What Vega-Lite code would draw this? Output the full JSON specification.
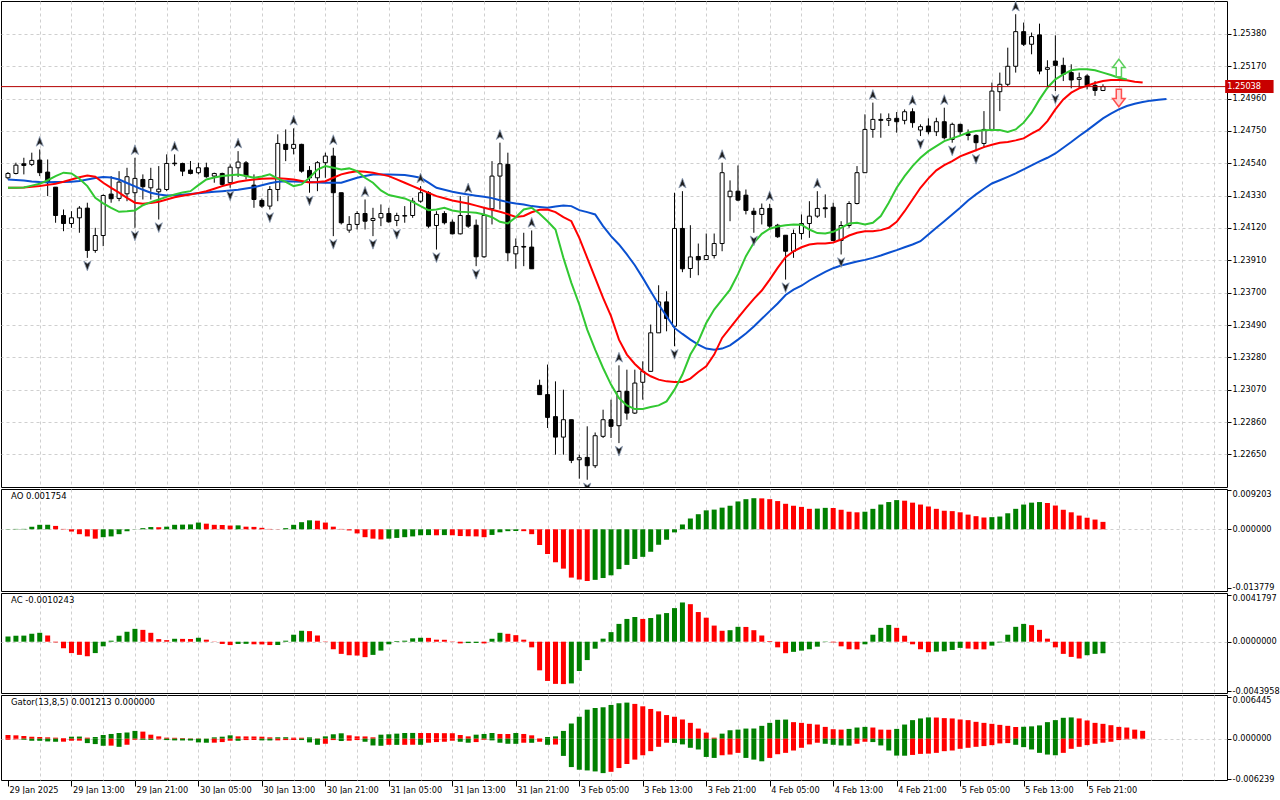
{
"$schema": "https://vega.github.io/schema/vega-lite/v6.json",
"padding": 0,
"background": "white",
"spacing": 2,
"bounds": "flush",
"config": {
  "view": {"stroke": "#000000", "strokeWidth": 1, "fill": "white"},
  "font": "DejaVu Sans",
  "axis": {"labelFont": "DejaVu Sans", "labelFontSize": 8.2, "labelColor": "#000000", "tickColor": "#000000", "gridColor": "#cfcfcf", "gridDash": [3, 3], "gridWidth": 1, "domain": false, "labelOverlap": false, "labelBound": false, "labelFlush": false, "title": null}
},
"datasets": {
"candles": [
{"i":0,"o":1.24446,"h":1.24483,"l":1.24435,"c":1.24474},
{"i":1,"o":1.24474,"h":1.24544,"l":1.24468,"c":1.24528},
{"i":2,"o":1.24537,"h":1.24576,"l":1.24468,"c":1.24526},
{"i":3,"o":1.24533,"h":1.24609,"l":1.24522,"c":1.24559},
{"i":4,"o":1.24561,"h":1.24630,"l":1.24457,"c":1.24479},
{"i":5,"o":1.24483,"h":1.24565,"l":1.24327,"c":1.24414},
{"i":6,"o":1.24385,"h":1.24385,"l":1.24154,"c":1.24201},
{"i":7,"o":1.24201,"h":1.24240,"l":1.24099,"c":1.24149},
{"i":8,"o":1.24149,"h":1.24229,"l":1.24121,"c":1.24186},
{"i":9,"o":1.24186,"h":1.24262,"l":1.24089,"c":1.24249},
{"i":10,"o":1.24249,"h":1.24284,"l":1.23926,"c":1.23974},
{"i":11,"o":1.23974,"h":1.24121,"l":1.23959,"c":1.24071},
{"i":12,"o":1.24071,"h":1.24338,"l":1.24002,"c":1.24331},
{"i":13,"o":1.24340,"h":1.24457,"l":1.24284,"c":1.24310},
{"i":14,"o":1.24312,"h":1.24489,"l":1.24294,"c":1.24418},
{"i":15,"o":1.24342,"h":1.24511,"l":1.24294,"c":1.24453},
{"i":16,"o":1.24349,"h":1.24576,"l":1.24121,"c":1.24442},
{"i":17,"o":1.24435,"h":1.24468,"l":1.24305,"c":1.24388},
{"i":18,"o":1.24381,"h":1.24511,"l":1.24305,"c":1.24435},
{"i":19,"o":1.24355,"h":1.24522,"l":1.24175,"c":1.24372},
{"i":20,"o":1.24370,"h":1.24598,"l":1.24359,"c":1.24539},
{"i":21,"o":1.24541,"h":1.24598,"l":1.24522,"c":1.24537},
{"i":22,"o":1.24539,"h":1.24544,"l":1.24457,"c":1.24489},
{"i":23,"o":1.24496,"h":1.24555,"l":1.24468,"c":1.24474},
{"i":24,"o":1.24479,"h":1.24544,"l":1.24468,"c":1.24511},
{"i":25,"o":1.24511,"h":1.24544,"l":1.24446,"c":1.24453},
{"i":26,"o":1.24457,"h":1.24479,"l":1.24414,"c":1.24474},
{"i":27,"o":1.24474,"h":1.24479,"l":1.24392,"c":1.24403},
{"i":28,"o":1.24414,"h":1.24533,"l":1.24381,"c":1.24515},
{"i":29,"o":1.24511,"h":1.24619,"l":1.24451,"c":1.24548},
{"i":30,"o":1.24543,"h":1.24555,"l":1.24435,"c":1.24457},
{"i":31,"o":1.24398,"h":1.24468,"l":1.24251,"c":1.24305},
{"i":32,"o":1.24299,"h":1.24312,"l":1.24251,"c":1.24262},
{"i":33,"o":1.24262,"h":1.24392,"l":1.24240,"c":1.24370},
{"i":34,"o":1.24370,"h":1.24728,"l":1.24294,"c":1.24669},
{"i":35,"o":1.24663,"h":1.24760,"l":1.24554,"c":1.24630},
{"i":36,"o":1.24637,"h":1.24767,"l":1.24598,"c":1.24663},
{"i":37,"o":1.24663,"h":1.24667,"l":1.24479,"c":1.24489},
{"i":38,"o":1.24494,"h":1.24522,"l":1.24349,"c":1.24446},
{"i":39,"o":1.24446,"h":1.24554,"l":1.24359,"c":1.24544},
{"i":40,"o":1.24544,"h":1.24609,"l":1.24446,"c":1.24587},
{"i":41,"o":1.24587,"h":1.24641,"l":1.24067,"c":1.24349},
{"i":42,"o":1.24349,"h":1.24349,"l":1.24143,"c":1.24154},
{"i":43,"o":1.24106,"h":1.24197,"l":1.24089,"c":1.24143},
{"i":44,"o":1.24143,"h":1.24229,"l":1.24110,"c":1.24214},
{"i":45,"o":1.24214,"h":1.24305,"l":1.24110,"c":1.24164},
{"i":46,"o":1.24169,"h":1.24251,"l":1.24067,"c":1.24182},
{"i":47,"o":1.24186,"h":1.24273,"l":1.24132,"c":1.24214},
{"i":48,"o":1.24214,"h":1.24251,"l":1.24154,"c":1.24160},
{"i":49,"o":1.24169,"h":1.24219,"l":1.24132,"c":1.24201},
{"i":50,"o":1.24197,"h":1.24262,"l":1.24154,"c":1.24201},
{"i":51,"o":1.24201,"h":1.24316,"l":1.24186,"c":1.24294},
{"i":52,"o":1.24294,"h":1.24392,"l":1.24284,"c":1.24349},
{"i":53,"o":1.24349,"h":1.24359,"l":1.24121,"c":1.24132},
{"i":54,"o":1.24136,"h":1.24229,"l":1.23980,"c":1.24208},
{"i":55,"o":1.24214,"h":1.24229,"l":1.24143,"c":1.24154},
{"i":56,"o":1.24158,"h":1.24175,"l":1.24078,"c":1.24082},
{"i":57,"o":1.24082,"h":1.24327,"l":1.24078,"c":1.24201},
{"i":58,"o":1.24201,"h":1.24327,"l":1.24121,"c":1.24132},
{"i":59,"o":1.24138,"h":1.24175,"l":1.23872,"c":1.23933},
{"i":60,"o":1.23933,"h":1.24251,"l":1.23926,"c":1.24201},
{"i":61,"o":1.24245,"h":1.24554,"l":1.24143,"c":1.24457},
{"i":62,"o":1.24457,"h":1.24674,"l":1.24240,"c":1.24537},
{"i":63,"o":1.24533,"h":1.24609,"l":1.23904,"c":1.23959},
{"i":64,"o":1.23952,"h":1.24052,"l":1.23855,"c":1.24000},
{"i":65,"o":1.24000,"h":1.24089,"l":1.23872,"c":1.23996},
{"i":66,"o":1.23996,"h":1.24104,"l":1.23855,"c":1.23855},
{"i":67,"o":1.23098,"h":1.23135,"l":1.23038,"c":1.23038},
{"i":68,"o":1.23038,"h":1.23233,"l":1.22821,"c":1.22890},
{"i":69,"o":1.22895,"h":1.23124,"l":1.22648,"c":1.22762},
{"i":70,"o":1.22762,"h":1.23070,"l":1.22648,"c":1.22875},
{"i":71,"o":1.22875,"h":1.22875,"l":1.22593,"c":1.22611},
{"i":72,"o":1.22615,"h":1.22648,"l":1.22492,"c":1.22628},
{"i":73,"o":1.22630,"h":1.22832,"l":1.22485,"c":1.22576},
{"i":74,"o":1.22576,"h":1.22792,"l":1.22561,"c":1.22771},
{"i":75,"o":1.22767,"h":1.22940,"l":1.22756,"c":1.22875},
{"i":76,"o":1.22875,"h":1.23005,"l":1.22756,"c":1.22832},
{"i":77,"o":1.22836,"h":1.23228,"l":1.22723,"c":1.23059},
{"i":78,"o":1.23059,"h":1.23200,"l":1.22875,"c":1.22918},
{"i":79,"o":1.22918,"h":1.23200,"l":1.22912,"c":1.23113},
{"i":80,"o":1.23118,"h":1.23254,"l":1.23005,"c":1.23189},
{"i":81,"o":1.23189,"h":1.23493,"l":1.23189,"c":1.23439},
{"i":82,"o":1.23439,"h":1.23748,"l":1.23439,"c":1.23640},
{"i":83,"o":1.23640,"h":1.23709,"l":1.23449,"c":1.23532},
{"i":84,"o":1.23482,"h":1.24349,"l":1.23352,"c":1.24117},
{"i":85,"o":1.24117,"h":1.24359,"l":1.23833,"c":1.23855},
{"i":86,"o":1.23857,"h":1.24138,"l":1.23796,"c":1.23932},
{"i":87,"o":1.23935,"h":1.24019,"l":1.23813,"c":1.23913},
{"i":88,"o":1.23915,"h":1.24084,"l":1.23915,"c":1.23941},
{"i":89,"o":1.23941,"h":1.24084,"l":1.23922,"c":1.24019},
{"i":90,"o":1.24019,"h":1.24544,"l":1.23969,"c":1.24479},
{"i":91,"o":1.24323,"h":1.24429,"l":1.24164,"c":1.24359},
{"i":92,"o":1.24359,"h":1.24526,"l":1.24294,"c":1.24301},
{"i":93,"o":1.24333,"h":1.24370,"l":1.24208,"c":1.24234},
{"i":94,"o":1.24229,"h":1.24251,"l":1.24089,"c":1.24208},
{"i":95,"o":1.24208,"h":1.24279,"l":1.24143,"c":1.24247},
{"i":96,"o":1.24247,"h":1.24277,"l":1.24110,"c":1.24132},
{"i":97,"o":1.24138,"h":1.24147,"l":1.24056,"c":1.24063},
{"i":98,"o":1.24073,"h":1.24073,"l":1.23785,"c":1.23969},
{"i":99,"o":1.23969,"h":1.24110,"l":1.23926,"c":1.24084},
{"i":100,"o":1.24084,"h":1.24208,"l":1.24045,"c":1.24149},
{"i":101,"o":1.24149,"h":1.24294,"l":1.24056,"c":1.24197},
{"i":102,"o":1.24197,"h":1.24359,"l":1.24186,"c":1.24247},
{"i":103,"o":1.24251,"h":1.24338,"l":1.24186,"c":1.24245},
{"i":104,"o":1.24255,"h":1.24284,"l":1.24034,"c":1.24039},
{"i":105,"o":1.24039,"h":1.24164,"l":1.23948,"c":1.24136},
{"i":106,"o":1.24136,"h":1.24294,"l":1.24121,"c":1.24279},
{"i":107,"o":1.24279,"h":1.24522,"l":1.24273,"c":1.24479},
{"i":108,"o":1.24479,"h":1.24858,"l":1.24479,"c":1.24760},
{"i":109,"o":1.24760,"h":1.24934,"l":1.24706,"c":1.24825},
{"i":110,"o":1.24825,"h":1.24864,"l":1.24706,"c":1.24819},
{"i":111,"o":1.24819,"h":1.24864,"l":1.24782,"c":1.24830},
{"i":112,"o":1.24832,"h":1.24873,"l":1.24739,"c":1.24810},
{"i":113,"o":1.24819,"h":1.24890,"l":1.24793,"c":1.24875},
{"i":114,"o":1.24875,"h":1.24897,"l":1.24771,"c":1.24804},
{"i":115,"o":1.24756,"h":1.24793,"l":1.24717,"c":1.24778},
{"i":116,"o":1.24782,"h":1.24832,"l":1.24728,"c":1.24745},
{"i":117,"o":1.24745,"h":1.24836,"l":1.24717,"c":1.24810},
{"i":118,"o":1.24810,"h":1.24901,"l":1.24695,"c":1.24706},
{"i":119,"o":1.24695,"h":1.24804,"l":1.24674,"c":1.24793},
{"i":120,"o":1.24793,"h":1.24797,"l":1.24717,"c":1.24745},
{"i":121,"o":1.24732,"h":1.24760,"l":1.24689,"c":1.24721},
{"i":122,"o":1.24721,"h":1.24728,"l":1.24619,"c":1.24674},
{"i":123,"o":1.24669,"h":1.24879,"l":1.24641,"c":1.24760},
{"i":124,"o":1.24760,"h":1.25064,"l":1.24760,"c":1.25009},
{"i":125,"o":1.25005,"h":1.25129,"l":1.24879,"c":1.25053},
{"i":126,"o":1.25053,"h":1.25291,"l":1.25042,"c":1.25170},
{"i":127,"o":1.25170,"h":1.25508,"l":1.25129,"c":1.25395},
{"i":128,"o":1.25395,"h":1.25454,"l":1.25302,"c":1.25313},
{"i":129,"o":1.25313,"h":1.25389,"l":1.25248,"c":1.25363},
{"i":130,"o":1.25374,"h":1.25447,"l":1.25118,"c":1.25139},
{"i":131,"o":1.25150,"h":1.25209,"l":1.25042,"c":1.25161},
{"i":132,"o":1.25204,"h":1.25371,"l":1.25009,"c":1.25176},
{"i":133,"o":1.25176,"h":1.25226,"l":1.25074,"c":1.25118},
{"i":134,"o":1.25129,"h":1.25183,"l":1.25027,"c":1.25081},
{"i":135,"o":1.25085,"h":1.25129,"l":1.25027,"c":1.25096},
{"i":136,"o":1.25107,"h":1.25118,"l":1.25020,"c":1.25046},
{"i":137,"o":1.25046,"h":1.25074,"l":1.24978,"c":1.25013},
{"i":138,"o":1.25013,"h":1.25053,"l":1.25009,"c":1.25038}
],
"alligator": [
{"i":0,"jaw":1.24435,"teeth":1.24381,"lips":1.24381},
{"i":1,"jaw":1.24432,"teeth":1.24382,"lips":1.24382},
{"i":2,"jaw":1.24428,"teeth":1.24383,"lips":1.24383},
{"i":3,"jaw":1.24422,"teeth":1.24388,"lips":1.24395},
{"i":4,"jaw":1.24418,"teeth":1.24392,"lips":1.24407},
{"i":5,"jaw":1.24417,"teeth":1.24400,"lips":1.24430},
{"i":6,"jaw":1.24418,"teeth":1.24407,"lips":1.24457},
{"i":7,"jaw":1.24419,"teeth":1.24420,"lips":1.24479},
{"i":8,"jaw":1.24420,"teeth":1.24435,"lips":1.24474},
{"i":9,"jaw":1.24425,"teeth":1.24450,"lips":1.24440},
{"i":10,"jaw":1.24435,"teeth":1.24461,"lips":1.24392},
{"i":11,"jaw":1.24445,"teeth":1.24453,"lips":1.24316},
{"i":12,"jaw":1.24451,"teeth":1.24414,"lips":1.24280},
{"i":13,"jaw":1.24448,"teeth":1.24380,"lips":1.24251},
{"i":14,"jaw":1.24435,"teeth":1.24349,"lips":1.24225},
{"i":15,"jaw":1.24412,"teeth":1.24315,"lips":1.24228},
{"i":16,"jaw":1.24390,"teeth":1.24284,"lips":1.24234},
{"i":17,"jaw":1.24368,"teeth":1.24277,"lips":1.24268},
{"i":18,"jaw":1.24349,"teeth":1.24283,"lips":1.24288},
{"i":19,"jaw":1.24338,"teeth":1.24290,"lips":1.24305},
{"i":20,"jaw":1.24331,"teeth":1.24305,"lips":1.24322},
{"i":21,"jaw":1.24333,"teeth":1.24320,"lips":1.24338},
{"i":22,"jaw":1.24336,"teeth":1.24330,"lips":1.24350},
{"i":23,"jaw":1.24341,"teeth":1.24338,"lips":1.24359},
{"i":24,"jaw":1.24346,"teeth":1.24348,"lips":1.24398},
{"i":25,"jaw":1.24350,"teeth":1.24359,"lips":1.24435},
{"i":26,"jaw":1.24355,"teeth":1.24375,"lips":1.24448},
{"i":27,"jaw":1.24359,"teeth":1.24392,"lips":1.24457},
{"i":28,"jaw":1.24364,"teeth":1.24406,"lips":1.24463},
{"i":29,"jaw":1.24368,"teeth":1.24420,"lips":1.24468},
{"i":30,"jaw":1.24376,"teeth":1.24428,"lips":1.24458},
{"i":31,"jaw":1.24385,"teeth":1.24435,"lips":1.24446},
{"i":32,"jaw":1.24398,"teeth":1.24439,"lips":1.24455},
{"i":33,"jaw":1.24411,"teeth":1.24442,"lips":1.24468},
{"i":34,"jaw":1.24420,"teeth":1.24443,"lips":1.24440},
{"i":35,"jaw":1.24424,"teeth":1.24440,"lips":1.24420},
{"i":36,"jaw":1.24422,"teeth":1.24435,"lips":1.24392},
{"i":37,"jaw":1.24420,"teeth":1.24425,"lips":1.24403},
{"i":38,"jaw":1.24418,"teeth":1.24416,"lips":1.24446},
{"i":39,"jaw":1.24416,"teeth":1.24418,"lips":1.24500},
{"i":40,"jaw":1.24414,"teeth":1.24424,"lips":1.24522},
{"i":41,"jaw":1.24414,"teeth":1.24446,"lips":1.24511},
{"i":42,"jaw":1.24414,"teeth":1.24468,"lips":1.24500},
{"i":43,"jaw":1.24430,"teeth":1.24480,"lips":1.24507},
{"i":44,"jaw":1.24446,"teeth":1.24489,"lips":1.24489},
{"i":45,"jaw":1.24458,"teeth":1.24485,"lips":1.24446},
{"i":46,"jaw":1.24468,"teeth":1.24479,"lips":1.24414},
{"i":47,"jaw":1.24468,"teeth":1.24468,"lips":1.24364},
{"i":48,"jaw":1.24468,"teeth":1.24457,"lips":1.24334},
{"i":49,"jaw":1.24466,"teeth":1.24436,"lips":1.24323},
{"i":50,"jaw":1.24464,"teeth":1.24414,"lips":1.24312},
{"i":51,"jaw":1.24456,"teeth":1.24392,"lips":1.24290},
{"i":52,"jaw":1.24446,"teeth":1.24370,"lips":1.24262},
{"i":53,"jaw":1.24415,"teeth":1.24348,"lips":1.24236},
{"i":54,"jaw":1.24381,"teeth":1.24327,"lips":1.24240},
{"i":55,"jaw":1.24368,"teeth":1.24313,"lips":1.24251},
{"i":56,"jaw":1.24355,"teeth":1.24299,"lips":1.24234},
{"i":57,"jaw":1.24346,"teeth":1.24289,"lips":1.24225},
{"i":58,"jaw":1.24338,"teeth":1.24279,"lips":1.24223},
{"i":59,"jaw":1.24330,"teeth":1.24265,"lips":1.24219},
{"i":60,"jaw":1.24323,"teeth":1.24251,"lips":1.24208},
{"i":61,"jaw":1.24314,"teeth":1.24238,"lips":1.24190},
{"i":62,"jaw":1.24300,"teeth":1.24225,"lips":1.24160},
{"i":63,"jaw":1.24288,"teeth":1.24210,"lips":1.24150},
{"i":64,"jaw":1.24279,"teeth":1.24192,"lips":1.24190},
{"i":65,"jaw":1.24273,"teeth":1.24198,"lips":1.24240},
{"i":66,"jaw":1.24262,"teeth":1.24222,"lips":1.24251},
{"i":67,"jaw":1.24256,"teeth":1.24238,"lips":1.24212},
{"i":68,"jaw":1.24251,"teeth":1.24240,"lips":1.24164},
{"i":69,"jaw":1.24260,"teeth":1.24223,"lips":1.24110},
{"i":70,"jaw":1.24266,"teeth":1.24190,"lips":1.23926},
{"i":71,"jaw":1.24262,"teeth":1.24164,"lips":1.23764},
{"i":72,"jaw":1.24236,"teeth":1.24056,"lips":1.23623},
{"i":73,"jaw":1.24223,"teeth":1.23926,"lips":1.23460},
{"i":74,"jaw":1.24208,"teeth":1.23796,"lips":1.23330},
{"i":75,"jaw":1.24132,"teeth":1.23666,"lips":1.23211},
{"i":76,"jaw":1.24067,"teeth":1.23547,"lips":1.23103},
{"i":77,"jaw":1.24013,"teeth":1.23395,"lips":1.23016},
{"i":78,"jaw":1.23948,"teeth":1.23298,"lips":1.22968},
{"i":79,"jaw":1.23878,"teeth":1.23237,"lips":1.22944},
{"i":80,"jaw":1.23796,"teeth":1.23189,"lips":1.22944},
{"i":81,"jaw":1.23709,"teeth":1.23157,"lips":1.22957},
{"i":82,"jaw":1.23623,"teeth":1.23135,"lips":1.22968},
{"i":83,"jaw":1.23547,"teeth":1.23124,"lips":1.22994},
{"i":84,"jaw":1.23471,"teeth":1.23120,"lips":1.23070},
{"i":85,"jaw":1.23432,"teeth":1.23120,"lips":1.23168},
{"i":86,"jaw":1.23395,"teeth":1.23142,"lips":1.23298},
{"i":87,"jaw":1.23363,"teeth":1.23185,"lips":1.23384},
{"i":88,"jaw":1.23337,"teeth":1.23222,"lips":1.23503},
{"i":89,"jaw":1.23330,"teeth":1.23298,"lips":1.23590},
{"i":90,"jaw":1.23337,"teeth":1.23406,"lips":1.23655},
{"i":91,"jaw":1.23358,"teeth":1.23471,"lips":1.23720},
{"i":92,"jaw":1.23395,"teeth":1.23536,"lips":1.23820},
{"i":93,"jaw":1.23435,"teeth":1.23600,"lips":1.23937},
{"i":94,"jaw":1.23480,"teeth":1.23660,"lips":1.24024},
{"i":95,"jaw":1.23530,"teeth":1.23714,"lips":1.24082},
{"i":96,"jaw":1.23580,"teeth":1.23785,"lips":1.24115},
{"i":97,"jaw":1.23630,"teeth":1.23861,"lips":1.24130},
{"i":98,"jaw":1.23685,"teeth":1.23930,"lips":1.24138},
{"i":99,"jaw":1.23720,"teeth":1.23969,"lips":1.24143},
{"i":100,"jaw":1.23745,"teeth":1.23995,"lips":1.24141},
{"i":101,"jaw":1.23779,"teeth":1.24013,"lips":1.24110},
{"i":102,"jaw":1.23807,"teeth":1.24019,"lips":1.24087},
{"i":103,"jaw":1.23835,"teeth":1.24019,"lips":1.24084},
{"i":104,"jaw":1.23859,"teeth":1.24026,"lips":1.24095},
{"i":105,"jaw":1.23876,"teeth":1.24045,"lips":1.24121},
{"i":106,"jaw":1.23889,"teeth":1.24071,"lips":1.24149},
{"i":107,"jaw":1.23902,"teeth":1.24089,"lips":1.24154},
{"i":108,"jaw":1.23913,"teeth":1.24099,"lips":1.24143},
{"i":109,"jaw":1.23926,"teeth":1.24099,"lips":1.24154},
{"i":110,"jaw":1.23941,"teeth":1.24106,"lips":1.24197},
{"i":111,"jaw":1.23959,"teeth":1.24121,"lips":1.24284},
{"i":112,"jaw":1.23976,"teeth":1.24160,"lips":1.24381},
{"i":113,"jaw":1.23995,"teeth":1.24229,"lips":1.24457},
{"i":114,"jaw":1.24013,"teeth":1.24305,"lips":1.24522},
{"i":115,"jaw":1.24034,"teeth":1.24381,"lips":1.24576},
{"i":116,"jaw":1.24078,"teeth":1.24442,"lips":1.24619},
{"i":117,"jaw":1.24121,"teeth":1.24494,"lips":1.24652},
{"i":118,"jaw":1.24164,"teeth":1.24528,"lips":1.24684},
{"i":119,"jaw":1.24208,"teeth":1.24554,"lips":1.24702},
{"i":120,"jaw":1.24251,"teeth":1.24585,"lips":1.24720},
{"i":121,"jaw":1.24299,"teeth":1.24605,"lips":1.24740},
{"i":122,"jaw":1.24338,"teeth":1.24625,"lips":1.24750},
{"i":123,"jaw":1.24375,"teeth":1.24645,"lips":1.24755},
{"i":124,"jaw":1.24409,"teeth":1.24660,"lips":1.24756},
{"i":125,"jaw":1.24430,"teeth":1.24674,"lips":1.24756},
{"i":126,"jaw":1.24452,"teeth":1.24678,"lips":1.24743},
{"i":127,"jaw":1.24475,"teeth":1.24689,"lips":1.24760},
{"i":128,"jaw":1.24500,"teeth":1.24702,"lips":1.24804},
{"i":129,"jaw":1.24527,"teeth":1.24732,"lips":1.24869},
{"i":130,"jaw":1.24553,"teeth":1.24760,"lips":1.24955},
{"i":131,"jaw":1.24576,"teeth":1.24814,"lips":1.25031},
{"i":132,"jaw":1.24604,"teeth":1.24890,"lips":1.25085},
{"i":133,"jaw":1.24641,"teeth":1.24955,"lips":1.25118},
{"i":134,"jaw":1.24678,"teeth":1.24999,"lips":1.25144},
{"i":135,"jaw":1.24717,"teeth":1.25027,"lips":1.25150},
{"i":136,"jaw":1.24754,"teeth":1.25044,"lips":1.25150},
{"i":137,"jaw":1.24793,"teeth":1.25061,"lips":1.25144},
{"i":138,"jaw":1.24832,"teeth":1.25074,"lips":1.25129},
{"i":139,"jaw":1.24862,"teeth":1.25081,"lips":1.25113},
{"i":140,"jaw":1.24890,"teeth":1.25081,"lips":1.25096},
{"i":141,"jaw":1.24912,"teeth":1.25079,"lips":1.25085},
{"i":142,"jaw":1.24927,"teeth":1.25070,"lips":null},
{"i":143,"jaw":1.24938,"teeth":1.25064,"lips":null},
{"i":144,"jaw":1.24947,"teeth":null,"lips":null},
{"i":145,"jaw":1.24953,"teeth":null,"lips":null},
{"i":146,"jaw":1.24958,"teeth":null,"lips":null}
],
"fractals": [
{"i":4,"kind":"up","price":1.24630},{"i":16,"kind":"up","price":1.24576},{"i":21,"kind":"up","price":1.24598},{"i":29,"kind":"up","price":1.24619},
{"i":36,"kind":"up","price":1.24767},{"i":41,"kind":"up","price":1.24641},{"i":45,"kind":"up","price":1.24305},{"i":52,"kind":"up","price":1.24392},
{"i":58,"kind":"up","price":1.24327},{"i":62,"kind":"up","price":1.24674},{"i":66,"kind":"up","price":1.24104},{"i":77,"kind":"up","price":1.23228},
{"i":85,"kind":"up","price":1.24359},{"i":90,"kind":"up","price":1.24544},{"i":96,"kind":"up","price":1.24277},{"i":102,"kind":"up","price":1.24359},
{"i":109,"kind":"up","price":1.24934},{"i":114,"kind":"up","price":1.24897},{"i":118,"kind":"up","price":1.24901},{"i":127,"kind":"up","price":1.25508},
{"i":10,"kind":"down","price":1.23926},{"i":16,"kind":"down","price":1.24121},{"i":19,"kind":"down","price":1.24175},{"i":28,"kind":"down","price":1.24381},
{"i":33,"kind":"down","price":1.24240},{"i":38,"kind":"down","price":1.24349},{"i":41,"kind":"down","price":1.24067},{"i":46,"kind":"down","price":1.24067},
{"i":49,"kind":"down","price":1.24132},{"i":54,"kind":"down","price":1.23980},{"i":59,"kind":"down","price":1.23872},{"i":73,"kind":"down","price":1.22485},
{"i":77,"kind":"down","price":1.22723},{"i":84,"kind":"down","price":1.23352},{"i":94,"kind":"down","price":1.24089},{"i":98,"kind":"down","price":1.23785},
{"i":105,"kind":"down","price":1.23948},{"i":115,"kind":"down","price":1.24717},{"i":119,"kind":"down","price":1.24674},{"i":122,"kind":"down","price":1.24619},
{"i":132,"kind":"down","price":1.25009}
],
"signals": [
{"i":140,"kind":"up","price":1.25159},
{"i":140,"kind":"down","price":1.24964}
],
"price": [{"price":1.25038,"label":"1.25038"}],
"ao": [
{"i":0,"v":0.00005,"dir":"up"},{"i":1,"v":0.00009,"dir":"up"},{"i":2,"v":0.00010,"dir":"up"},{"i":3,"v":0.00062,"dir":"up"},
{"i":4,"v":0.00106,"dir":"up"},{"i":5,"v":0.00107,"dir":"up"},{"i":6,"v":0.00080,"dir":"down"},{"i":7,"v":0.00009,"dir":"down"},
{"i":8,"v":-0.00053,"dir":"down"},{"i":9,"v":-0.00115,"dir":"down"},{"i":10,"v":-0.00168,"dir":"down"},{"i":11,"v":-0.00221,"dir":"down"},
{"i":12,"v":-0.00186,"dir":"up"},{"i":13,"v":-0.00168,"dir":"up"},{"i":14,"v":-0.00115,"dir":"up"},{"i":15,"v":-0.00044,"dir":"up"},
{"i":16,"v":-0.00004,"dir":"up"},{"i":17,"v":0.00027,"dir":"up"},{"i":18,"v":0.00053,"dir":"up"},{"i":19,"v":0.00049,"dir":"down"},
{"i":20,"v":0.00062,"dir":"up"},{"i":21,"v":0.00106,"dir":"up"},{"i":22,"v":0.00110,"dir":"up"},{"i":23,"v":0.00115,"dir":"up"},
{"i":24,"v":0.00159,"dir":"up"},{"i":25,"v":0.00133,"dir":"down"},{"i":26,"v":0.00106,"dir":"down"},{"i":27,"v":0.00102,"dir":"down"},
{"i":28,"v":0.00088,"dir":"down"},{"i":29,"v":0.00093,"dir":"up"},{"i":30,"v":0.00062,"dir":"down"},{"i":31,"v":0.00057,"dir":"down"},
{"i":32,"v":0.00035,"dir":"down"},{"i":33,"v":0.00009,"dir":"down"},{"i":34,"v":0.00004,"dir":"down"},{"i":35,"v":0.00027,"dir":"up"},
{"i":36,"v":0.00106,"dir":"up"},{"i":37,"v":0.00168,"dir":"up"},{"i":38,"v":0.00212,"dir":"up"},{"i":39,"v":0.00203,"dir":"down"},
{"i":40,"v":0.00159,"dir":"down"},{"i":41,"v":0.00062,"dir":"down"},{"i":42,"v":0.00009,"dir":"down"},{"i":43,"v":-0.00027,"dir":"down"},
{"i":44,"v":-0.00097,"dir":"down"},{"i":45,"v":-0.00186,"dir":"down"},{"i":46,"v":-0.00221,"dir":"down"},{"i":47,"v":-0.00239,"dir":"down"},
{"i":48,"v":-0.00221,"dir":"up"},{"i":49,"v":-0.00203,"dir":"up"},{"i":50,"v":-0.00186,"dir":"up"},{"i":51,"v":-0.00168,"dir":"up"},
{"i":52,"v":-0.00141,"dir":"up"},{"i":53,"v":-0.00137,"dir":"up"},{"i":54,"v":-0.00141,"dir":"down"},{"i":55,"v":-0.00137,"dir":"up"},
{"i":56,"v":-0.00141,"dir":"down"},{"i":57,"v":-0.00159,"dir":"down"},{"i":58,"v":-0.00164,"dir":"down"},{"i":59,"v":-0.00168,"dir":"down"},
{"i":60,"v":-0.00186,"dir":"down"},{"i":61,"v":-0.00133,"dir":"up"},{"i":62,"v":-0.00071,"dir":"up"},{"i":63,"v":-0.00044,"dir":"up"},
{"i":64,"v":-0.00040,"dir":"up"},{"i":65,"v":-0.00044,"dir":"down"},{"i":66,"v":-0.00115,"dir":"down"},{"i":67,"v":-0.00371,"dir":"down"},
{"i":68,"v":-0.00583,"dir":"down"},{"i":69,"v":-0.00778,"dir":"down"},{"i":70,"v":-0.00928,"dir":"down"},{"i":71,"v":-0.01140,"dir":"down"},
{"i":72,"v":-0.01185,"dir":"down"},{"i":73,"v":-0.01220,"dir":"down"},{"i":74,"v":-0.01193,"dir":"up"},{"i":75,"v":-0.01150,"dir":"up"},
{"i":76,"v":-0.01086,"dir":"up"},{"i":77,"v":-0.00940,"dir":"up"},{"i":78,"v":-0.00840,"dir":"up"},{"i":79,"v":-0.00700,"dir":"up"},
{"i":80,"v":-0.00650,"dir":"up"},{"i":81,"v":-0.00530,"dir":"up"},{"i":82,"v":-0.00365,"dir":"up"},{"i":83,"v":-0.00246,"dir":"up"},
{"i":84,"v":-0.00073,"dir":"up"},{"i":85,"v":0.00114,"dir":"up"},{"i":86,"v":0.00255,"dir":"up"},{"i":87,"v":0.00356,"dir":"up"},
{"i":88,"v":0.00447,"dir":"up"},{"i":89,"v":0.00465,"dir":"up"},{"i":90,"v":0.00511,"dir":"up"},{"i":91,"v":0.00556,"dir":"up"},
{"i":92,"v":0.00657,"dir":"up"},{"i":93,"v":0.00711,"dir":"up"},{"i":94,"v":0.00734,"dir":"up"},{"i":95,"v":0.00730,"dir":"down"},
{"i":96,"v":0.00711,"dir":"down"},{"i":97,"v":0.00666,"dir":"down"},{"i":98,"v":0.00602,"dir":"down"},{"i":99,"v":0.00556,"dir":"down"},
{"i":100,"v":0.00529,"dir":"down"},{"i":101,"v":0.00483,"dir":"down"},{"i":102,"v":0.00488,"dir":"up"},{"i":103,"v":0.00506,"dir":"up"},
{"i":104,"v":0.00502,"dir":"down"},{"i":105,"v":0.00461,"dir":"down"},{"i":106,"v":0.00415,"dir":"down"},{"i":107,"v":0.00401,"dir":"down"},
{"i":108,"v":0.00415,"dir":"up"},{"i":109,"v":0.00483,"dir":"up"},{"i":110,"v":0.00584,"dir":"up"},{"i":111,"v":0.00643,"dir":"up"},
{"i":112,"v":0.00689,"dir":"up"},{"i":113,"v":0.00675,"dir":"down"},{"i":114,"v":0.00629,"dir":"down"},{"i":115,"v":0.00584,"dir":"down"},
{"i":116,"v":0.00538,"dir":"down"},{"i":117,"v":0.00483,"dir":"down"},{"i":118,"v":0.00438,"dir":"down"},{"i":119,"v":0.00429,"dir":"down"},
{"i":120,"v":0.00401,"dir":"down"},{"i":121,"v":0.00347,"dir":"down"},{"i":122,"v":0.00310,"dir":"down"},{"i":123,"v":0.00278,"dir":"down"},
{"i":124,"v":0.00287,"dir":"up"},{"i":125,"v":0.00301,"dir":"up"},{"i":126,"v":0.00378,"dir":"up"},{"i":127,"v":0.00483,"dir":"up"},
{"i":128,"v":0.00584,"dir":"up"},{"i":129,"v":0.00629,"dir":"up"},{"i":130,"v":0.00643,"dir":"up"},{"i":131,"v":0.00620,"dir":"down"},
{"i":132,"v":0.00561,"dir":"down"},{"i":133,"v":0.00461,"dir":"down"},{"i":134,"v":0.00401,"dir":"down"},{"i":135,"v":0.00324,"dir":"down"},
{"i":136,"v":0.00273,"dir":"down"},{"i":137,"v":0.00230,"dir":"down"},{"i":138,"v":0.001754,"dir":"down"}
],
"ac": [
{"i":0,"v":0.00046,"dir":"up"},{"i":1,"v":0.00053,"dir":"up"},{"i":2,"v":0.00054,"dir":"up"},{"i":3,"v":0.00070,"dir":"up"},
{"i":4,"v":0.00079,"dir":"up"},{"i":5,"v":0.00055,"dir":"down"},{"i":6,"v":-0.00006,"dir":"down"},{"i":7,"v":-0.00058,"dir":"down"},
{"i":8,"v":-0.00101,"dir":"down"},{"i":9,"v":-0.00117,"dir":"down"},{"i":10,"v":-0.00129,"dir":"down"},{"i":11,"v":-0.00101,"dir":"up"},
{"i":12,"v":-0.00041,"dir":"up"},{"i":13,"v":0.00009,"dir":"up"},{"i":14,"v":0.00053,"dir":"up"},{"i":15,"v":0.00088,"dir":"up"},
{"i":16,"v":0.00114,"dir":"up"},{"i":17,"v":0.00105,"dir":"down"},{"i":18,"v":0.00079,"dir":"down"},{"i":19,"v":0.00023,"dir":"down"},
{"i":20,"v":0.00014,"dir":"down"},{"i":21,"v":0.00026,"dir":"up"},{"i":22,"v":0.00025,"dir":"down"},{"i":23,"v":0.00024,"dir":"down"},
{"i":24,"v":0.00035,"dir":"up"},{"i":25,"v":0.00018,"dir":"down"},{"i":26,"v":-0.00002,"dir":"down"},{"i":27,"v":-0.00020,"dir":"down"},
{"i":28,"v":-0.00030,"dir":"down"},{"i":29,"v":-0.00020,"dir":"up"},{"i":30,"v":-0.00019,"dir":"up"},{"i":31,"v":-0.00023,"dir":"down"},
{"i":32,"v":-0.00024,"dir":"down"},{"i":33,"v":-0.00030,"dir":"down"},{"i":34,"v":-0.00029,"dir":"up"},{"i":35,"v":0.00009,"dir":"up"},
{"i":36,"v":0.00062,"dir":"up"},{"i":37,"v":0.00097,"dir":"up"},{"i":38,"v":0.00094,"dir":"down"},{"i":39,"v":0.00055,"dir":"down"},
{"i":40,"v":-0.00003,"dir":"down"},{"i":41,"v":-0.00067,"dir":"down"},{"i":42,"v":-0.00108,"dir":"down"},{"i":43,"v":-0.00120,"dir":"down"},
{"i":44,"v":-0.00123,"dir":"down"},{"i":45,"v":-0.00137,"dir":"down"},{"i":46,"v":-0.00117,"dir":"up"},{"i":47,"v":-0.00079,"dir":"up"},
{"i":48,"v":-0.00023,"dir":"up"},{"i":49,"v":0.00006,"dir":"up"},{"i":50,"v":0.00009,"dir":"up"},{"i":51,"v":0.00030,"dir":"up"},
{"i":52,"v":0.00035,"dir":"up"},{"i":53,"v":0.00034,"dir":"down"},{"i":54,"v":0.00018,"dir":"down"},{"i":55,"v":0.00017,"dir":"down"},
{"i":56,"v":-0.00003,"dir":"down"},{"i":57,"v":-0.00015,"dir":"down"},{"i":58,"v":-0.00012,"dir":"up"},{"i":59,"v":-0.00011,"dir":"up"},
{"i":60,"v":-0.00015,"dir":"down"},{"i":61,"v":0.00026,"dir":"up"},{"i":62,"v":0.00079,"dir":"up"},{"i":63,"v":0.00070,"dir":"down"},
{"i":64,"v":0.00058,"dir":"down"},{"i":65,"v":0.00018,"dir":"down"},{"i":66,"v":-0.00050,"dir":"down"},{"i":67,"v":-0.00254,"dir":"down"},
{"i":68,"v":-0.00348,"dir":"down"},{"i":69,"v":-0.00374,"dir":"down"},{"i":70,"v":-0.00376,"dir":"down"},{"i":71,"v":-0.00370,"dir":"up"},
{"i":72,"v":-0.00260,"dir":"up"},{"i":73,"v":-0.00163,"dir":"up"},{"i":74,"v":-0.00062,"dir":"up"},{"i":75,"v":0.00027,"dir":"up"},
{"i":76,"v":0.00085,"dir":"up"},{"i":77,"v":0.00158,"dir":"up"},{"i":78,"v":0.00202,"dir":"up"},{"i":79,"v":0.00219,"dir":"up"},
{"i":80,"v":0.00202,"dir":"down"},{"i":81,"v":0.00210,"dir":"up"},{"i":82,"v":0.00242,"dir":"up"},{"i":83,"v":0.00254,"dir":"up"},
{"i":84,"v":0.00298,"dir":"up"},{"i":85,"v":0.00348,"dir":"up"},{"i":86,"v":0.00333,"dir":"down"},{"i":87,"v":0.00263,"dir":"down"},
{"i":88,"v":0.00213,"dir":"down"},{"i":89,"v":0.00143,"dir":"down"},{"i":90,"v":0.00097,"dir":"down"},{"i":91,"v":0.00102,"dir":"up"},
{"i":92,"v":0.00132,"dir":"up"},{"i":93,"v":0.00131,"dir":"down"},{"i":94,"v":0.00102,"dir":"down"},{"i":95,"v":0.00055,"dir":"down"},
{"i":96,"v":0.00006,"dir":"down"},{"i":97,"v":-0.00050,"dir":"down"},{"i":98,"v":-0.00102,"dir":"down"},{"i":99,"v":-0.00090,"dir":"up"},
{"i":100,"v":-0.00079,"dir":"up"},{"i":101,"v":-0.00067,"dir":"up"},{"i":102,"v":-0.00044,"dir":"up"},{"i":103,"v":-0.00003,"dir":"up"},
{"i":104,"v":-0.00006,"dir":"down"},{"i":105,"v":-0.00041,"dir":"down"},{"i":106,"v":-0.00067,"dir":"down"},{"i":107,"v":-0.00068,"dir":"down"},
{"i":108,"v":-0.00023,"dir":"up"},{"i":109,"v":0.00062,"dir":"up"},{"i":110,"v":0.00123,"dir":"up"},{"i":111,"v":0.00149,"dir":"up"},
{"i":112,"v":0.00123,"dir":"down"},{"i":113,"v":0.00053,"dir":"down"},{"i":114,"v":-0.00023,"dir":"down"},{"i":115,"v":-0.00067,"dir":"down"},
{"i":116,"v":-0.00093,"dir":"down"},{"i":117,"v":-0.00088,"dir":"up"},{"i":118,"v":-0.00085,"dir":"up"},{"i":119,"v":-0.00073,"dir":"up"},
{"i":120,"v":-0.00055,"dir":"up"},{"i":121,"v":-0.00061,"dir":"down"},{"i":122,"v":-0.00067,"dir":"down"},{"i":123,"v":-0.00068,"dir":"down"},
{"i":124,"v":-0.00035,"dir":"up"},{"i":125,"v":-0.00006,"dir":"up"},{"i":126,"v":0.00062,"dir":"up"},{"i":127,"v":0.00132,"dir":"up"},
{"i":128,"v":0.00158,"dir":"up"},{"i":129,"v":0.00147,"dir":"down"},{"i":130,"v":0.00105,"dir":"down"},{"i":131,"v":0.00027,"dir":"down"},
{"i":132,"v":-0.00050,"dir":"down"},{"i":133,"v":-0.00108,"dir":"down"},{"i":134,"v":-0.00135,"dir":"down"},{"i":135,"v":-0.00149,"dir":"down"},
{"i":136,"v":-0.00120,"dir":"up"},{"i":137,"v":-0.00108,"dir":"up"},{"i":138,"v":-0.0010243,"dir":"up"}
],
"gator": [
{"i":0,"v":0.00057,"dir":"down"},{"i":1,"v":0.00052,"dir":"down"},{"i":2,"v":0.00042,"dir":"down"},{"i":3,"v":0.00031,"dir":"down"},
{"i":4,"v":0.00026,"dir":"down"},{"i":5,"v":0.00021,"dir":"down"},{"i":6,"v":0.00016,"dir":"down"},{"i":7,"v":0.00010,"dir":"down"},
{"i":8,"v":0.00031,"dir":"up"},{"i":9,"v":0.00033,"dir":"up"},{"i":10,"v":0.00016,"dir":"down"},{"i":11,"v":0.00026,"dir":"up"},
{"i":12,"v":0.00057,"dir":"up"},{"i":13,"v":0.00073,"dir":"up"},{"i":14,"v":0.00088,"dir":"up"},{"i":15,"v":0.00095,"dir":"up"},
{"i":16,"v":0.00120,"dir":"up"},{"i":17,"v":0.00109,"dir":"down"},{"i":18,"v":0.00062,"dir":"down"},{"i":19,"v":0.00036,"dir":"down"},
{"i":20,"v":0.00016,"dir":"down"},{"i":21,"v":0.00014,"dir":"down"},{"i":22,"v":0.00010,"dir":"down"},{"i":23,"v":0.00005,"dir":"down"},
{"i":24,"v":0.00004,"dir":"down"},{"i":25,"v":0.00002,"dir":"down"},{"i":26,"v":0.00021,"dir":"up"},{"i":27,"v":0.00031,"dir":"up"},
{"i":28,"v":0.00052,"dir":"up"},{"i":29,"v":0.00036,"dir":"down"},{"i":30,"v":0.00035,"dir":"down"},{"i":31,"v":0.00034,"dir":"down"},
{"i":32,"v":0.00031,"dir":"down"},{"i":33,"v":0.00021,"dir":"down"},{"i":34,"v":0.00022,"dir":"up"},{"i":35,"v":0.00023,"dir":"up"},
{"i":36,"v":0.00016,"dir":"down"},{"i":37,"v":0.00015,"dir":"down"},{"i":38,"v":0.00021,"dir":"up"},{"i":39,"v":0.00005,"dir":"down"},
{"i":40,"v":0.00036,"dir":"up"},{"i":41,"v":0.00068,"dir":"up"},{"i":42,"v":0.00083,"dir":"up"},{"i":43,"v":0.00052,"dir":"down"},
{"i":44,"v":0.00036,"dir":"down"},{"i":45,"v":0.00035,"dir":"down"},{"i":46,"v":0.00021,"dir":"down"},{"i":47,"v":0.00062,"dir":"up"},
{"i":48,"v":0.00068,"dir":"up"},{"i":49,"v":0.00078,"dir":"up"},{"i":50,"v":0.00088,"dir":"up"},{"i":51,"v":0.00089,"dir":"up"},
{"i":52,"v":0.00088,"dir":"down"},{"i":53,"v":0.00087,"dir":"down"},{"i":54,"v":0.00086,"dir":"down"},{"i":55,"v":0.00085,"dir":"down"},
{"i":56,"v":0.00084,"dir":"down"},{"i":57,"v":0.00057,"dir":"down"},{"i":58,"v":0.00036,"dir":"down"},{"i":59,"v":0.00062,"dir":"up"},
{"i":60,"v":0.00073,"dir":"up"},{"i":61,"v":0.00088,"dir":"up"},{"i":62,"v":0.00073,"dir":"down"},{"i":63,"v":0.00072,"dir":"down"},
{"i":64,"v":0.00088,"dir":"up"},{"i":65,"v":0.00073,"dir":"down"},{"i":66,"v":0.00052,"dir":"down"},{"i":67,"v":0.00005,"dir":"down"},
{"i":68,"v":0.00026,"dir":"up"},{"i":69,"v":0.00036,"dir":"up"},{"i":70,"v":0.00120,"dir":"up"},{"i":71,"v":0.00234,"dir":"up"},
{"i":72,"v":0.00338,"dir":"up"},{"i":73,"v":0.00447,"dir":"up"},{"i":74,"v":0.00473,"dir":"up"},{"i":75,"v":0.00484,"dir":"up"},
{"i":76,"v":0.00520,"dir":"up"},{"i":77,"v":0.00546,"dir":"up"},{"i":78,"v":0.00556,"dir":"up"},{"i":79,"v":0.00536,"dir":"down"},
{"i":80,"v":0.00499,"dir":"down"},{"i":81,"v":0.00458,"dir":"down"},{"i":82,"v":0.00421,"dir":"down"},{"i":83,"v":0.00364,"dir":"down"},
{"i":84,"v":0.00338,"dir":"down"},{"i":85,"v":0.00296,"dir":"down"},{"i":86,"v":0.00244,"dir":"down"},{"i":87,"v":0.00156,"dir":"down"},
{"i":88,"v":0.00094,"dir":"down"},{"i":89,"v":0.00016,"dir":"down"},{"i":90,"v":0.00078,"dir":"up"},{"i":91,"v":0.00130,"dir":"up"},
{"i":92,"v":0.00140,"dir":"up"},{"i":93,"v":0.00156,"dir":"up"},{"i":94,"v":0.00157,"dir":"up"},{"i":95,"v":0.00198,"dir":"up"},
{"i":96,"v":0.00244,"dir":"up"},{"i":97,"v":0.00291,"dir":"up"},{"i":98,"v":0.00295,"dir":"up"},{"i":99,"v":0.00255,"dir":"down"},
{"i":100,"v":0.00244,"dir":"down"},{"i":101,"v":0.00229,"dir":"down"},{"i":102,"v":0.00218,"dir":"down"},{"i":103,"v":0.00182,"dir":"down"},
{"i":104,"v":0.00146,"dir":"down"},{"i":105,"v":0.00140,"dir":"down"},{"i":106,"v":0.00151,"dir":"up"},{"i":107,"v":0.00172,"dir":"up"},
{"i":108,"v":0.00182,"dir":"up"},{"i":109,"v":0.00172,"dir":"down"},{"i":110,"v":0.00140,"dir":"down"},{"i":111,"v":0.00138,"dir":"down"},
{"i":112,"v":0.00151,"dir":"up"},{"i":113,"v":0.00218,"dir":"up"},{"i":114,"v":0.00286,"dir":"up"},{"i":115,"v":0.00312,"dir":"up"},
{"i":116,"v":0.00328,"dir":"up"},{"i":117,"v":0.00326,"dir":"down"},{"i":118,"v":0.00317,"dir":"down"},{"i":119,"v":0.00312,"dir":"down"},
{"i":120,"v":0.00296,"dir":"down"},{"i":121,"v":0.00286,"dir":"down"},{"i":122,"v":0.00260,"dir":"down"},{"i":123,"v":0.00244,"dir":"down"},
{"i":124,"v":0.00229,"dir":"down"},{"i":125,"v":0.00213,"dir":"down"},{"i":126,"v":0.00198,"dir":"down"},{"i":127,"v":0.00180,"dir":"down"},
{"i":128,"v":0.00184,"dir":"up"},{"i":129,"v":0.00190,"dir":"up"},{"i":130,"v":0.00205,"dir":"up"},{"i":131,"v":0.00255,"dir":"up"},
{"i":132,"v":0.00286,"dir":"up"},{"i":133,"v":0.00322,"dir":"up"},{"i":134,"v":0.00328,"dir":"up"},{"i":135,"v":0.00312,"dir":"down"},
{"i":136,"v":0.00281,"dir":"down"},{"i":137,"v":0.00244,"dir":"down"},{"i":138,"v":0.00229,"dir":"down"},{"i":139,"v":0.00208,"dir":"down"},
{"i":140,"v":0.00182,"dir":"down"},{"i":141,"v":0.00172,"dir":"down"},{"i":142,"v":0.00140,"dir":"down"},{"i":143,"v":0.001213,"dir":"down"},
{"i":0,"v":-0.00016,"dir":"down"},{"i":1,"v":-0.00010,"dir":"down"},{"i":2,"v":-0.00016,"dir":"up"},{"i":3,"v":-0.00031,"dir":"up"},
{"i":4,"v":-0.00032,"dir":"up"},{"i":5,"v":-0.00042,"dir":"up"},{"i":6,"v":-0.00047,"dir":"up"},{"i":7,"v":-0.00046,"dir":"down"},
{"i":8,"v":-0.00031,"dir":"down"},{"i":9,"v":-0.00030,"dir":"down"},{"i":10,"v":-0.00068,"dir":"up"},{"i":11,"v":-0.00083,"dir":"up"},
{"i":12,"v":-0.00109,"dir":"up"},{"i":13,"v":-0.00107,"dir":"down"},{"i":14,"v":-0.00125,"dir":"up"},{"i":15,"v":-0.00094,"dir":"down"},
{"i":16,"v":-0.00016,"dir":"down"},{"i":17,"v":-0.00017,"dir":"up"},{"i":18,"v":-0.00018,"dir":"up"},{"i":19,"v":-0.00010,"dir":"down"},
{"i":20,"v":-0.00021,"dir":"up"},{"i":21,"v":-0.00026,"dir":"up"},{"i":22,"v":-0.00027,"dir":"up"},{"i":23,"v":-0.00028,"dir":"up"},
{"i":24,"v":-0.00057,"dir":"up"},{"i":25,"v":-0.00062,"dir":"up"},{"i":26,"v":-0.00061,"dir":"down"},{"i":27,"v":-0.00052,"dir":"down"},
{"i":28,"v":-0.00031,"dir":"down"},{"i":29,"v":-0.00032,"dir":"up"},{"i":30,"v":-0.00021,"dir":"down"},{"i":31,"v":-0.00020,"dir":"down"},
{"i":32,"v":-0.00026,"dir":"up"},{"i":33,"v":-0.00027,"dir":"up"},{"i":34,"v":-0.00026,"dir":"down"},{"i":35,"v":-0.00021,"dir":"down"},
{"i":36,"v":-0.00020,"dir":"down"},{"i":37,"v":-0.00021,"dir":"up"},{"i":38,"v":-0.00057,"dir":"up"},{"i":39,"v":-0.00094,"dir":"up"},
{"i":40,"v":-0.00078,"dir":"down"},{"i":41,"v":-0.00021,"dir":"down"},{"i":42,"v":-0.00036,"dir":"up"},{"i":43,"v":-0.00031,"dir":"down"},
{"i":44,"v":-0.00021,"dir":"down"},{"i":45,"v":-0.00047,"dir":"up"},{"i":46,"v":-0.00104,"dir":"up"},{"i":47,"v":-0.00109,"dir":"up"},
{"i":48,"v":-0.00094,"dir":"down"},{"i":49,"v":-0.00095,"dir":"up"},{"i":50,"v":-0.00094,"dir":"down"},{"i":51,"v":-0.00093,"dir":"down"},
{"i":52,"v":-0.00094,"dir":"up"},{"i":53,"v":-0.00062,"dir":"down"},{"i":54,"v":-0.00052,"dir":"down"},{"i":55,"v":-0.00047,"dir":"down"},
{"i":56,"v":-0.00031,"dir":"down"},{"i":57,"v":-0.00047,"dir":"up"},{"i":58,"v":-0.00062,"dir":"up"},{"i":59,"v":-0.00052,"dir":"down"},
{"i":60,"v":-0.00016,"dir":"down"},{"i":61,"v":-0.00026,"dir":"up"},{"i":62,"v":-0.00062,"dir":"up"},{"i":63,"v":-0.00078,"dir":"up"},
{"i":64,"v":-0.00079,"dir":"up"},{"i":65,"v":-0.00062,"dir":"down"},{"i":66,"v":-0.00063,"dir":"up"},{"i":67,"v":-0.00047,"dir":"down"},
{"i":68,"v":-0.00094,"dir":"up"},{"i":69,"v":-0.00090,"dir":"down"},{"i":70,"v":-0.00265,"dir":"up"},{"i":71,"v":-0.00437,"dir":"up"},
{"i":72,"v":-0.00478,"dir":"up"},{"i":73,"v":-0.00489,"dir":"up"},{"i":74,"v":-0.00504,"dir":"up"},{"i":75,"v":-0.00530,"dir":"up"},
{"i":76,"v":-0.00510,"dir":"down"},{"i":77,"v":-0.00452,"dir":"down"},{"i":78,"v":-0.00390,"dir":"down"},{"i":79,"v":-0.00322,"dir":"down"},
{"i":80,"v":-0.00255,"dir":"down"},{"i":81,"v":-0.00192,"dir":"down"},{"i":82,"v":-0.00125,"dir":"down"},{"i":83,"v":-0.00062,"dir":"down"},
{"i":84,"v":-0.00065,"dir":"up"},{"i":85,"v":-0.00088,"dir":"up"},{"i":86,"v":-0.00140,"dir":"up"},{"i":87,"v":-0.00166,"dir":"up"},
{"i":88,"v":-0.00281,"dir":"up"},{"i":89,"v":-0.00296,"dir":"up"},{"i":90,"v":-0.00255,"dir":"down"},{"i":91,"v":-0.00244,"dir":"down"},
{"i":92,"v":-0.00218,"dir":"down"},{"i":93,"v":-0.00296,"dir":"up"},{"i":94,"v":-0.00322,"dir":"up"},{"i":95,"v":-0.00348,"dir":"up"},
{"i":96,"v":-0.00296,"dir":"down"},{"i":97,"v":-0.00239,"dir":"down"},{"i":98,"v":-0.00218,"dir":"down"},{"i":99,"v":-0.00182,"dir":"down"},
{"i":100,"v":-0.00140,"dir":"down"},{"i":101,"v":-0.00088,"dir":"down"},{"i":102,"v":-0.00062,"dir":"down"},{"i":103,"v":-0.00078,"dir":"up"},
{"i":104,"v":-0.00094,"dir":"up"},{"i":105,"v":-0.00104,"dir":"up"},{"i":106,"v":-0.00106,"dir":"up"},{"i":107,"v":-0.00078,"dir":"down"},
{"i":108,"v":-0.00047,"dir":"down"},{"i":109,"v":-0.00052,"dir":"up"},{"i":110,"v":-0.00104,"dir":"up"},{"i":111,"v":-0.00182,"dir":"up"},
{"i":112,"v":-0.00260,"dir":"up"},{"i":113,"v":-0.00262,"dir":"up"},{"i":114,"v":-0.00250,"dir":"down"},{"i":115,"v":-0.00234,"dir":"down"},
{"i":116,"v":-0.00230,"dir":"down"},{"i":117,"v":-0.00218,"dir":"down"},{"i":118,"v":-0.00192,"dir":"down"},{"i":119,"v":-0.00182,"dir":"down"},
{"i":120,"v":-0.00156,"dir":"down"},{"i":121,"v":-0.00140,"dir":"down"},{"i":122,"v":-0.00125,"dir":"down"},{"i":123,"v":-0.00114,"dir":"down"},
{"i":124,"v":-0.00099,"dir":"down"},{"i":125,"v":-0.00073,"dir":"down"},{"i":126,"v":-0.00068,"dir":"down"},{"i":127,"v":-0.00094,"dir":"up"},
{"i":128,"v":-0.00130,"dir":"up"},{"i":129,"v":-0.00166,"dir":"up"},{"i":130,"v":-0.00218,"dir":"up"},{"i":131,"v":-0.00244,"dir":"up"},
{"i":132,"v":-0.00255,"dir":"up"},{"i":133,"v":-0.00218,"dir":"down"},{"i":134,"v":-0.00156,"dir":"down"},{"i":135,"v":-0.00125,"dir":"down"},
{"i":136,"v":-0.00099,"dir":"down"},{"i":137,"v":-0.00078,"dir":"down"},{"i":138,"v":-0.00062,"dir":"down"},{"i":139,"v":-0.00047,"dir":"down"},
{"i":140,"v":-0.00021,"dir":"down"},{"i":141,"v":-0.00010,"dir":"down"}
]
},
"vconcat": [
{
  "width": 1226, "height": 486,
  "layer": [
    {"data": {"name": "candles"}, "mark": {"type": "rule", "color": "#000000", "strokeWidth": 1, "clip": true},
     "encoding": {
      "x": {"field": "i", "type": "quantitative", "scale": {"domain": [-0.25, 153], "nice": false, "zero": false},
        "axis": {"values": [0,4,8,12,16,20,24,28,32,36,40,44,48,52,56,60,64,68,72,76,80,84,88,92,96,100,104,108,112,116,120,124,128,132,136,140,144,148,152], "grid": true, "labels": false, "ticks": false, "domain": false, "title": null, "minExtent": 0, "maxExtent": 0, "labelOverlap": false, "gridOpacity": {"condition": {"test": "datum.value == 0", "value": 0}, "value": 1}}},
      "y": {"field": "l", "type": "quantitative", "scale": {"domain": [1.22438, 1.25594], "nice": false, "zero": false},
        "axis": {"orient": "right", "values": [1.2265,1.2286,1.2307,1.2328,1.2349,1.2370,1.2391,1.2412,1.2433,1.2454,1.2475,1.2496,1.2517,1.2538], "format": ".5f", "grid": true, "tickSize": 4, "labelPadding": 1, "domain": false, "title": null, "labelOverlap": false, "labelBound": false, "labelFlush": false}},
      "y2": {"field": "h"}}},
    {"data": {"name": "candles"}, "mark": {"type": "bar", "size": 4, "stroke": "#000000", "strokeWidth": 1, "clip": true},
     "encoding": {
      "x": {"field": "i", "type": "quantitative", "scale": {"domain": [-0.25, 153], "nice": false, "zero": false},
        "axis": {"values": [0,4,8,12,16,20,24,28,32,36,40,44,48,52,56,60,64,68,72,76,80,84,88,92,96,100,104,108,112,116,120,124,128,132,136,140,144,148,152], "grid": true, "labels": false, "ticks": false, "domain": false, "title": null, "minExtent": 0, "maxExtent": 0, "labelOverlap": false, "gridOpacity": {"condition": {"test": "datum.value == 0", "value": 0}, "value": 1}}},
      "y": {"field": "o", "type": "quantitative", "scale": {"domain": [1.22438, 1.25594], "nice": false, "zero": false},
        "axis": {"orient": "right", "values": [1.2265,1.2286,1.2307,1.2328,1.2349,1.2370,1.2391,1.2412,1.2433,1.2454,1.2475,1.2496,1.2517,1.2538], "format": ".5f", "grid": true, "tickSize": 4, "labelPadding": 1, "domain": false, "title": null, "labelOverlap": false, "labelBound": false, "labelFlush": false}},
      "y2": {"field": "c"},
      "fill": {"condition": {"test": "datum.c > datum.o", "value": "#ffffff"}, "value": "#000000"}}},
    {"data": {"name": "alligator"}, "mark": {"type": "line", "color": "#0a50d0", "strokeWidth": 2, "clip": true},
     "encoding": {
      "x": {"field": "i", "type": "quantitative", "scale": {"domain": [-0.25, 153], "nice": false, "zero": false},
        "axis": {"values": [0,4,8,12,16,20,24,28,32,36,40,44,48,52,56,60,64,68,72,76,80,84,88,92,96,100,104,108,112,116,120,124,128,132,136,140,144,148,152], "grid": true, "labels": false, "ticks": false, "domain": false, "title": null, "minExtent": 0, "maxExtent": 0, "labelOverlap": false, "gridOpacity": {"condition": {"test": "datum.value == 0", "value": 0}, "value": 1}}},
      "y": {"field": "jaw", "type": "quantitative", "scale": {"domain": [1.22438, 1.25594], "nice": false, "zero": false},
        "axis": {"orient": "right", "values": [1.2265,1.2286,1.2307,1.2328,1.2349,1.2370,1.2391,1.2412,1.2433,1.2454,1.2475,1.2496,1.2517,1.2538], "format": ".5f", "grid": true, "tickSize": 4, "labelPadding": 1, "domain": false, "title": null, "labelOverlap": false, "labelBound": false, "labelFlush": false}}}},
    {"data": {"name": "alligator"}, "mark": {"type": "line", "color": "#ff0000", "strokeWidth": 2, "clip": true},
     "encoding": {
      "x": {"field": "i", "type": "quantitative", "scale": {"domain": [-0.25, 153], "nice": false, "zero": false},
        "axis": {"values": [0,4,8,12,16,20,24,28,32,36,40,44,48,52,56,60,64,68,72,76,80,84,88,92,96,100,104,108,112,116,120,124,128,132,136,140,144,148,152], "grid": true, "labels": false, "ticks": false, "domain": false, "title": null, "minExtent": 0, "maxExtent": 0, "labelOverlap": false, "gridOpacity": {"condition": {"test": "datum.value == 0", "value": 0}, "value": 1}}},
      "y": {"field": "teeth", "type": "quantitative", "scale": {"domain": [1.22438, 1.25594], "nice": false, "zero": false},
        "axis": {"orient": "right", "values": [1.2265,1.2286,1.2307,1.2328,1.2349,1.2370,1.2391,1.2412,1.2433,1.2454,1.2475,1.2496,1.2517,1.2538], "format": ".5f", "grid": true, "tickSize": 4, "labelPadding": 1, "domain": false, "title": null, "labelOverlap": false, "labelBound": false, "labelFlush": false}}}},
    {"data": {"name": "alligator"}, "mark": {"type": "line", "color": "#32c832", "strokeWidth": 2, "clip": true},
     "encoding": {
      "x": {"field": "i", "type": "quantitative", "scale": {"domain": [-0.25, 153], "nice": false, "zero": false},
        "axis": {"values": [0,4,8,12,16,20,24,28,32,36,40,44,48,52,56,60,64,68,72,76,80,84,88,92,96,100,104,108,112,116,120,124,128,132,136,140,144,148,152], "grid": true, "labels": false, "ticks": false, "domain": false, "title": null, "minExtent": 0, "maxExtent": 0, "labelOverlap": false, "gridOpacity": {"condition": {"test": "datum.value == 0", "value": 0}, "value": 1}}},
      "y": {"field": "lips", "type": "quantitative", "scale": {"domain": [1.22438, 1.25594], "nice": false, "zero": false},
        "axis": {"orient": "right", "values": [1.2265,1.2286,1.2307,1.2328,1.2349,1.2370,1.2391,1.2412,1.2433,1.2454,1.2475,1.2496,1.2517,1.2538], "format": ".5f", "grid": true, "tickSize": 4, "labelPadding": 1, "domain": false, "title": null, "labelOverlap": false, "labelBound": false, "labelFlush": false}}}},
    {"data": {"name": "price"}, "mark": {"type": "rule", "color": "#b40000", "strokeWidth": 1},
     "encoding": {
      "y": {"field": "price", "type": "quantitative", "scale": {"domain": [1.22438, 1.25594], "nice": false, "zero": false},
        "axis": {"orient": "right", "values": [1.2265,1.2286,1.2307,1.2328,1.2349,1.2370,1.2391,1.2412,1.2433,1.2454,1.2475,1.2496,1.2517,1.2538], "format": ".5f", "grid": true, "tickSize": 4, "labelPadding": 1, "domain": false, "title": null, "labelOverlap": false, "labelBound": false, "labelFlush": false}}}},
    {"data": {"name": "price"}, "mark": {"type": "rule", "color": "#c80000", "strokeWidth": 13, "strokeCap": "butt"},
     "encoding": {
      "x": {"datum": 153.4, "type": "quantitative", "scale": {"domain": [-0.25, 153], "nice": false, "zero": false},
        "axis": {"values": [0,4,8,12,16,20,24,28,32,36,40,44,48,52,56,60,64,68,72,76,80,84,88,92,96,100,104,108,112,116,120,124,128,132,136,140,144,148,152], "grid": true, "labels": false, "ticks": false, "domain": false, "title": null, "minExtent": 0, "maxExtent": 0, "labelOverlap": false, "gridOpacity": {"condition": {"test": "datum.value == 0", "value": 0}, "value": 1}}},
      "x2": {"datum": 159.5},
      "y": {"field": "price", "type": "quantitative", "scale": {"domain": [1.22438, 1.25594], "nice": false, "zero": false},
        "axis": {"orient": "right", "values": [1.2265,1.2286,1.2307,1.2328,1.2349,1.2370,1.2391,1.2412,1.2433,1.2454,1.2475,1.2496,1.2517,1.2538], "format": ".5f", "grid": true, "tickSize": 4, "labelPadding": 1, "domain": false, "title": null, "labelOverlap": false, "labelBound": false, "labelFlush": false}}}},
    {"data": {"name": "price"}, "mark": {"type": "text", "color": "#ffffff", "fontSize": 8.2, "font": "DejaVu Sans", "align": "left", "baseline": "middle", "dx": 2},
     "encoding": {
      "x": {"datum": 153.4, "type": "quantitative", "scale": {"domain": [-0.25, 153], "nice": false, "zero": false},
        "axis": {"values": [0,4,8,12,16,20,24,28,32,36,40,44,48,52,56,60,64,68,72,76,80,84,88,92,96,100,104,108,112,116,120,124,128,132,136,140,144,148,152], "grid": true, "labels": false, "ticks": false, "domain": false, "title": null, "minExtent": 0, "maxExtent": 0, "labelOverlap": false, "gridOpacity": {"condition": {"test": "datum.value == 0", "value": 0}, "value": 1}}},
      "y": {"field": "price", "type": "quantitative", "scale": {"domain": [1.22438, 1.25594], "nice": false, "zero": false},
        "axis": {"orient": "right", "values": [1.2265,1.2286,1.2307,1.2328,1.2349,1.2370,1.2391,1.2412,1.2433,1.2454,1.2475,1.2496,1.2517,1.2538], "format": ".5f", "grid": true, "tickSize": 4, "labelPadding": 1, "domain": false, "title": null, "labelOverlap": false, "labelBound": false, "labelFlush": false}},
      "text": {"field": "label"}}},
    {"data": {"name": "fractals"}, "transform": [{"filter": "datum.kind == 'up'"}],
     "mark": {"type": "point", "shape": "M0,-1L0.72,0.95L0,0.45L-0.72,0.95Z", "size": 100, "filled": true, "fill": "#1e1e1e", "stroke": "#8fa0b8", "strokeWidth": 0.8, "opacity": 1, "yOffset": -8, "clip": true},
     "encoding": {
      "x": {"field": "i", "type": "quantitative", "scale": {"domain": [-0.25, 153], "nice": false, "zero": false},
        "axis": {"values": [0,4,8,12,16,20,24,28,32,36,40,44,48,52,56,60,64,68,72,76,80,84,88,92,96,100,104,108,112,116,120,124,128,132,136,140,144,148,152], "grid": true, "labels": false, "ticks": false, "domain": false, "title": null, "minExtent": 0, "maxExtent": 0, "labelOverlap": false, "gridOpacity": {"condition": {"test": "datum.value == 0", "value": 0}, "value": 1}}},
      "y": {"field": "price", "type": "quantitative", "scale": {"domain": [1.22438, 1.25594], "nice": false, "zero": false},
        "axis": {"orient": "right", "values": [1.2265,1.2286,1.2307,1.2328,1.2349,1.2370,1.2391,1.2412,1.2433,1.2454,1.2475,1.2496,1.2517,1.2538], "format": ".5f", "grid": true, "tickSize": 4, "labelPadding": 1, "domain": false, "title": null, "labelOverlap": false, "labelBound": false, "labelFlush": false}}}},
    {"data": {"name": "fractals"}, "transform": [{"filter": "datum.kind == 'down'"}],
     "mark": {"type": "point", "shape": "M0,1L0.72,-0.95L0,-0.45L-0.72,-0.95Z", "size": 100, "filled": true, "fill": "#1e1e1e", "stroke": "#8fa0b8", "strokeWidth": 0.8, "opacity": 1, "yOffset": 8, "clip": true},
     "encoding": {
      "x": {"field": "i", "type": "quantitative", "scale": {"domain": [-0.25, 153], "nice": false, "zero": false},
        "axis": {"values": [0,4,8,12,16,20,24,28,32,36,40,44,48,52,56,60,64,68,72,76,80,84,88,92,96,100,104,108,112,116,120,124,128,132,136,140,144,148,152], "grid": true, "labels": false, "ticks": false, "domain": false, "title": null, "minExtent": 0, "maxExtent": 0, "labelOverlap": false, "gridOpacity": {"condition": {"test": "datum.value == 0", "value": 0}, "value": 1}}},
      "y": {"field": "price", "type": "quantitative", "scale": {"domain": [1.22438, 1.25594], "nice": false, "zero": false},
        "axis": {"orient": "right", "values": [1.2265,1.2286,1.2307,1.2328,1.2349,1.2370,1.2391,1.2412,1.2433,1.2454,1.2475,1.2496,1.2517,1.2538], "format": ".5f", "grid": true, "tickSize": 4, "labelPadding": 1, "domain": false, "title": null, "labelOverlap": false, "labelBound": false, "labelFlush": false}}}},
    {"data": {"name": "signals"}, "transform": [{"filter": "datum.kind == 'up'"}],
     "mark": {"type": "point", "shape": "M0,-1L0.72,-0.05L0.3,-0.05L0.3,1L-0.3,1L-0.3,-0.05L-0.72,-0.05Z", "size": 300, "filled": true, "fill": "#ffffff", "stroke": "#5ccf5c", "strokeWidth": 1.5, "opacity": 1},
     "encoding": {
      "x": {"field": "i", "type": "quantitative", "scale": {"domain": [-0.25, 153], "nice": false, "zero": false},
        "axis": {"values": [0,4,8,12,16,20,24,28,32,36,40,44,48,52,56,60,64,68,72,76,80,84,88,92,96,100,104,108,112,116,120,124,128,132,136,140,144,148,152], "grid": true, "labels": false, "ticks": false, "domain": false, "title": null, "minExtent": 0, "maxExtent": 0, "labelOverlap": false, "gridOpacity": {"condition": {"test": "datum.value == 0", "value": 0}, "value": 1}}},
      "y": {"field": "price", "type": "quantitative", "scale": {"domain": [1.22438, 1.25594], "nice": false, "zero": false},
        "axis": {"orient": "right", "values": [1.2265,1.2286,1.2307,1.2328,1.2349,1.2370,1.2391,1.2412,1.2433,1.2454,1.2475,1.2496,1.2517,1.2538], "format": ".5f", "grid": true, "tickSize": 4, "labelPadding": 1, "domain": false, "title": null, "labelOverlap": false, "labelBound": false, "labelFlush": false}}}},
    {"data": {"name": "signals"}, "transform": [{"filter": "datum.kind == 'down'"}],
     "mark": {"type": "point", "shape": "M0,1L0.72,0.05L0.3,0.05L0.3,-1L-0.3,-1L-0.3,0.05L-0.72,0.05Z", "size": 300, "filled": true, "fill": "#ffd6d6", "stroke": "#ff5050", "strokeWidth": 1.5, "opacity": 1},
     "encoding": {
      "x": {"field": "i", "type": "quantitative", "scale": {"domain": [-0.25, 153], "nice": false, "zero": false},
        "axis": {"values": [0,4,8,12,16,20,24,28,32,36,40,44,48,52,56,60,64,68,72,76,80,84,88,92,96,100,104,108,112,116,120,124,128,132,136,140,144,148,152], "grid": true, "labels": false, "ticks": false, "domain": false, "title": null, "minExtent": 0, "maxExtent": 0, "labelOverlap": false, "gridOpacity": {"condition": {"test": "datum.value == 0", "value": 0}, "value": 1}}},
      "y": {"field": "price", "type": "quantitative", "scale": {"domain": [1.22438, 1.25594], "nice": false, "zero": false},
        "axis": {"orient": "right", "values": [1.2265,1.2286,1.2307,1.2328,1.2349,1.2370,1.2391,1.2412,1.2433,1.2454,1.2475,1.2496,1.2517,1.2538], "format": ".5f", "grid": true, "tickSize": 4, "labelPadding": 1, "domain": false, "title": null, "labelOverlap": false, "labelBound": false, "labelFlush": false}}}}
  ]
},
{
  "width": 1226, "height": 102,
  "layer": [
    {"data": {"name": "ao"}, "mark": {"type": "bar", "size": 5},
     "encoding": {
      "x": {"field": "i", "type": "quantitative", "scale": {"domain": [-0.25, 153], "nice": false, "zero": false},
        "axis": {"values": [0,4,8,12,16,20,24,28,32,36,40,44,48,52,56,60,64,68,72,76,80,84,88,92,96,100,104,108,112,116,120,124,128,132,136,140,144,148,152], "grid": true, "labels": false, "ticks": false, "domain": false, "title": null, "minExtent": 0, "maxExtent": 0, "labelOverlap": false, "gridOpacity": {"condition": {"test": "datum.value == 0", "value": 0}, "value": 1}}},
      "y": {"field": "v", "type": "quantitative", "scale": {"domain": [-0.01456, 0.00951], "nice": false, "zero": false},
        "axis": {"orient": "right", "values": [0.009203, 0, -0.013779], "grid": true, "gridOpacity": {"condition": {"test": "datum.value == 0", "value": 1}, "value": 0}, "tickSize": 4, "labelPadding": 1, "domain": false, "title": null, "labelOverlap": false, "labelBound": false, "labelFlush": false,
          "labelExpr": "datum.value < 0 ? '-' + format(-datum.value, '.6f') : format(datum.value, '.6f')",
          "labelBaseline": {"condition": {"test": "datum.value > 0", "value": "top"}, "value": "middle"}}},
      "y2": {"datum": 0},
      "color": {"field": "dir", "type": "nominal", "scale": {"domain": ["up", "down"], "range": ["#008000", "#ff0000"]}, "legend": null}}},
    {"data": {"values": [{"t": "AO 0.001754"}]}, "mark": {"type": "text", "fontSize": 8.5, "font": "DejaVu Sans", "color": "#000000", "align": "left", "baseline": "top", "dx": 5, "dy": 3},
     "encoding": {
      "x": {"datum": -0.25, "type": "quantitative", "scale": {"domain": [-0.25, 153], "nice": false, "zero": false},
        "axis": {"values": [0,4,8,12,16,20,24,28,32,36,40,44,48,52,56,60,64,68,72,76,80,84,88,92,96,100,104,108,112,116,120,124,128,132,136,140,144,148,152], "grid": true, "labels": false, "ticks": false, "domain": false, "title": null, "minExtent": 0, "maxExtent": 0, "labelOverlap": false, "gridOpacity": {"condition": {"test": "datum.value == 0", "value": 0}, "value": 1}}},
      "y": {"datum": 0.00951, "type": "quantitative", "scale": {"domain": [-0.01456, 0.00951], "nice": false, "zero": false},
        "axis": {"orient": "right", "values": [0.009203, 0, -0.013779], "grid": true, "gridOpacity": {"condition": {"test": "datum.value == 0", "value": 1}, "value": 0}, "tickSize": 4, "labelPadding": 1, "domain": false, "title": null, "labelOverlap": false, "labelBound": false, "labelFlush": false,
          "labelExpr": "datum.value < 0 ? '-' + format(-datum.value, '.6f') : format(datum.value, '.6f')",
          "labelBaseline": {"condition": {"test": "datum.value > 0", "value": "top"}, "value": "middle"}}},
      "text": {"field": "t"}}}
  ]
},
{
  "width": 1226, "height": 100,
  "layer": [
    {"data": {"name": "ac"}, "mark": {"type": "bar", "size": 5},
     "encoding": {
      "x": {"field": "i", "type": "quantitative", "scale": {"domain": [-0.25, 153], "nice": false, "zero": false},
        "axis": {"values": [0,4,8,12,16,20,24,28,32,36,40,44,48,52,56,60,64,68,72,76,80,84,88,92,96,100,104,108,112,116,120,124,128,132,136,140,144,148,152], "grid": true, "labels": false, "ticks": false, "domain": false, "title": null, "minExtent": 0, "maxExtent": 0, "labelOverlap": false, "gridOpacity": {"condition": {"test": "datum.value == 0", "value": 0}, "value": 1}}},
      "y": {"field": "v", "type": "quantitative", "scale": {"domain": [-0.00455, 0.00432], "nice": false, "zero": false},
        "axis": {"orient": "right", "values": [0.0041797, 0, -0.0043958], "grid": true, "gridOpacity": {"condition": {"test": "datum.value == 0", "value": 1}, "value": 0}, "tickSize": 4, "labelPadding": 1, "domain": false, "title": null, "labelOverlap": false, "labelBound": false, "labelFlush": false,
          "labelExpr": "datum.value < 0 ? '-' + format(-datum.value, '.7f') : format(datum.value, '.7f')",
          "labelBaseline": {"condition": {"test": "datum.value > 0", "value": "top"}, "value": "middle"}}},
      "y2": {"datum": 0},
      "color": {"field": "dir", "type": "nominal", "scale": {"domain": ["up", "down"], "range": ["#008000", "#ff0000"]}, "legend": null}}},
    {"data": {"values": [{"t": "AC -0.0010243"}]}, "mark": {"type": "text", "fontSize": 8.5, "font": "DejaVu Sans", "color": "#000000", "align": "left", "baseline": "top", "dx": 5, "dy": 3},
     "encoding": {
      "x": {"datum": -0.25, "type": "quantitative", "scale": {"domain": [-0.25, 153], "nice": false, "zero": false},
        "axis": {"values": [0,4,8,12,16,20,24,28,32,36,40,44,48,52,56,60,64,68,72,76,80,84,88,92,96,100,104,108,112,116,120,124,128,132,136,140,144,148,152], "grid": true, "labels": false, "ticks": false, "domain": false, "title": null, "minExtent": 0, "maxExtent": 0, "labelOverlap": false, "gridOpacity": {"condition": {"test": "datum.value == 0", "value": 0}, "value": 1}}},
      "y": {"datum": 0.00432, "type": "quantitative", "scale": {"domain": [-0.00455, 0.00432], "nice": false, "zero": false},
        "axis": {"orient": "right", "values": [0.0041797, 0, -0.0043958], "grid": true, "gridOpacity": {"condition": {"test": "datum.value == 0", "value": 1}, "value": 0}, "tickSize": 4, "labelPadding": 1, "domain": false, "title": null, "labelOverlap": false, "labelBound": false, "labelFlush": false,
          "labelExpr": "datum.value < 0 ? '-' + format(-datum.value, '.7f') : format(datum.value, '.7f')",
          "labelBaseline": {"condition": {"test": "datum.value > 0", "value": "top"}, "value": "middle"}}},
      "text": {"field": "t"}}}
  ]
},
{
  "width": 1226, "height": 85,
  "layer": [
    {"data": {"name": "gator"}, "mark": {"type": "bar", "size": 5},
     "encoding": {
      "x": {"field": "i", "type": "quantitative", "scale": {"domain": [-0.25, 153], "nice": false, "zero": false},
        "axis": {"values": [0,4,8,12,16,20,24,28,32,36,40,44,48,52,56,60,64,68,72,76,80,84,88,92,96,100,104,108,112,116,120,124,128,132,136,140,144,148,152], "grid": true, "domain": false, "title": null,
          "gridOpacity": {"condition": {"test": "datum.value == 0", "value": 0}, "value": 1},
          "tickSize": 6, "tickOpacity": {"condition": {"test": "datum.value % 8 == 0 && datum.value <= 136", "value": 1}, "value": 0},
          "labelAlign": "left", "labelBaseline": "top", "labelPadding": 0, "labelOffset": 1, "labelOverlap": false, "labelFlush": false, "labelBound": false,
          "labelExpr": "(datum.value % 8 == 0 && datum.value <= 136) ? ['29 Jan 2025','29 Jan 13:00','29 Jan 21:00','30 Jan 05:00','30 Jan 13:00','30 Jan 21:00','31 Jan 05:00','31 Jan 13:00','31 Jan 21:00','3 Feb 05:00','3 Feb 13:00','3 Feb 21:00','4 Feb 05:00','4 Feb 13:00','4 Feb 21:00','5 Feb 05:00','5 Feb 13:00','5 Feb 21:00'][datum.value / 8] : ''"}},
      "y": {"field": "v", "type": "quantitative", "scale": {"domain": [-0.00636, 0.00673], "nice": false, "zero": false},
        "axis": {"orient": "right", "values": [0.006445, 0, -0.006239], "grid": true, "gridOpacity": {"condition": {"test": "datum.value == 0", "value": 1}, "value": 0}, "tickSize": 4, "labelPadding": 1, "domain": false, "title": null, "labelOverlap": false, "labelBound": false, "labelFlush": false,
          "labelExpr": "datum.value < 0 ? '-' + format(-datum.value, '.6f') : format(datum.value, '.6f')",
          "labelBaseline": {"condition": {"test": "datum.value > 0", "value": "top"}, "value": "middle"}}},
      "y2": {"datum": 0},
      "color": {"field": "dir", "type": "nominal", "scale": {"domain": ["up", "down"], "range": ["#008000", "#ff0000"]}, "legend": null}}},
    {"data": {"values": [{"t": "Gator(13,8,5) 0.001213 0.000000"}]}, "mark": {"type": "text", "fontSize": 8.5, "font": "DejaVu Sans", "color": "#000000", "align": "left", "baseline": "top", "dx": 5, "dy": 3},
     "encoding": {
      "x": {"datum": -0.25, "type": "quantitative", "scale": {"domain": [-0.25, 153], "nice": false, "zero": false},
        "axis": {"values": [0,4,8,12,16,20,24,28,32,36,40,44,48,52,56,60,64,68,72,76,80,84,88,92,96,100,104,108,112,116,120,124,128,132,136,140,144,148,152], "grid": true, "domain": false, "title": null,
          "gridOpacity": {"condition": {"test": "datum.value == 0", "value": 0}, "value": 1},
          "tickSize": 6, "tickOpacity": {"condition": {"test": "datum.value % 8 == 0 && datum.value <= 136", "value": 1}, "value": 0},
          "labelAlign": "left", "labelBaseline": "top", "labelPadding": 0, "labelOffset": 1, "labelOverlap": false, "labelFlush": false, "labelBound": false,
          "labelExpr": "(datum.value % 8 == 0 && datum.value <= 136) ? ['29 Jan 2025','29 Jan 13:00','29 Jan 21:00','30 Jan 05:00','30 Jan 13:00','30 Jan 21:00','31 Jan 05:00','31 Jan 13:00','31 Jan 21:00','3 Feb 05:00','3 Feb 13:00','3 Feb 21:00','4 Feb 05:00','4 Feb 13:00','4 Feb 21:00','5 Feb 05:00','5 Feb 13:00','5 Feb 21:00'][datum.value / 8] : ''"}},
      "y": {"datum": 0.00673, "type": "quantitative", "scale": {"domain": [-0.00636, 0.00673], "nice": false, "zero": false},
        "axis": {"orient": "right", "values": [0.006445, 0, -0.006239], "grid": true, "gridOpacity": {"condition": {"test": "datum.value == 0", "value": 1}, "value": 0}, "tickSize": 4, "labelPadding": 1, "domain": false, "title": null, "labelOverlap": false, "labelBound": false, "labelFlush": false,
          "labelExpr": "datum.value < 0 ? '-' + format(-datum.value, '.6f') : format(datum.value, '.6f')",
          "labelBaseline": {"condition": {"test": "datum.value > 0", "value": "top"}, "value": "middle"}}},
      "text": {"field": "t"}}}
  ]
}
]
}
